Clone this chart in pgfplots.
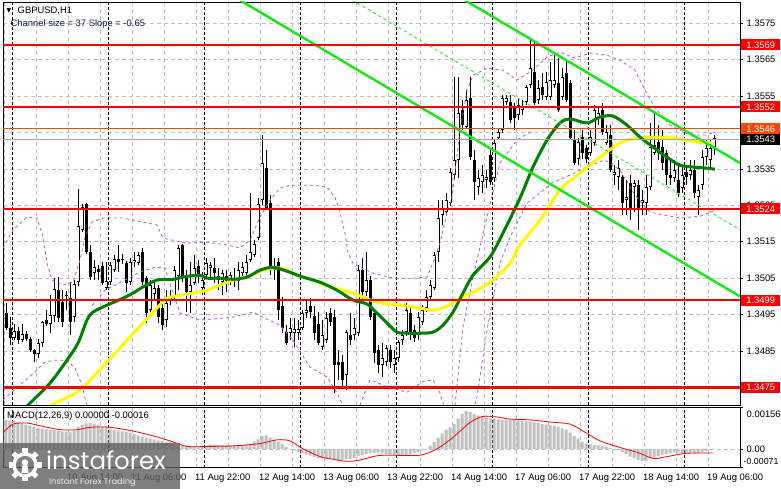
\documentclass[border=0pt]{standalone}
\usepackage{fontspec}
\setmainfont{Liberation Sans}
\newfontfamily\logofont{Poppins}
\newfontfamily\symfont{DejaVu Sans}
\usepackage{pgfplots}
\usepackage{pgfplotstable}
\pgfplotsset{compat=1.18}

\definecolor{mtred}{RGB}{255,0,0}
\definecolor{mtorange}{RGB}{255,69,0}
\definecolor{mtlime}{RGB}{20,235,20}
\definecolor{mtgreen}{RGB}{0,128,0}
\definecolor{mtyellow}{RGB}{255,250,0}
\definecolor{bbpurple}{RGB}{180,85,220}
\definecolor{gridgray}{RGB}{192,192,192}
\definecolor{histgray}{RGB}{192,192,192}
\definecolor{chtext}{RGB}{20,30,70}
\definecolor{logogray}{RGB}{95,95,95}

% GBPUSD H1 candles: bar, open, high, low, close
\pgfplotstableread{
i o h l c
0 1.35023 1.35028 1.34946 1.34954
1 1.34954 1.34982 1.34908 1.34913
2 1.34913 1.34943 1.34866 1.34886
3 1.34886 1.34924 1.34880 1.34905
4 1.34905 1.34916 1.34869 1.34880
5 1.34880 1.34924 1.34875 1.34897
6 1.34897 1.34905 1.34877 1.34883
7 1.34883 1.34888 1.34847 1.34853
8 1.34853 1.34855 1.34820 1.34842
9 1.34842 1.34883 1.34831 1.34872
10 1.34872 1.34932 1.34861 1.34929
11 1.34935 1.34962 1.34918 1.34924
12 1.34924 1.35003 1.34899 1.34949
13 1.34946 1.35050 1.34929 1.35020
14 1.35017 1.35053 1.34929 1.34940
15 1.34984 1.35017 1.34916 1.34929
16 1.35001 1.35014 1.34962 1.35003
17 1.34995 1.35039 1.34894 1.34929
18 1.34943 1.35045 1.34929 1.35034
19 1.35039 1.35294 1.35028 1.35193
20 1.35182 1.35253 1.35176 1.35245
21 1.35253 1.35256 1.35116 1.35122
22 1.35122 1.35141 1.35045 1.35053
23 1.35064 1.35100 1.35045 1.35080
24 1.35075 1.35086 1.35045 1.35067
25 1.35083 1.35094 1.35031 1.35036
26 1.35023 1.35094 1.35017 1.35042
27 1.35039 1.35094 1.35031 1.35086
28 1.35072 1.35113 1.35067 1.35102
29 1.35102 1.35141 1.35067 1.35094
30 1.35100 1.35116 1.35089 1.35102
31 1.35091 1.35097 1.35012 1.35036
32 1.35039 1.35105 1.35031 1.35094
33 1.35094 1.35122 1.35080 1.35100
34 1.35091 1.35122 1.35086 1.35113
35 1.35122 1.35132 1.35031 1.35039
36 1.35050 1.35056 1.34927 1.34954
37 1.34962 1.35045 1.34957 1.35031
38 1.35006 1.35039 1.34990 1.35023
39 1.35023 1.35031 1.34927 1.34943
40 1.34968 1.34984 1.34908 1.34921
41 1.34935 1.35017 1.34916 1.34982
42 1.34990 1.35017 1.34976 1.35001
43 1.35001 1.35083 1.34992 1.35072
44 1.35056 1.35141 1.35017 1.35132
45 1.35141 1.35144 1.35039 1.35053
46 1.35053 1.35072 1.34957 1.35012
47 1.35012 1.35094 1.34954 1.35031
48 1.35036 1.35113 1.35031 1.35078
49 1.35083 1.35100 1.35036 1.35053
50 1.35023 1.35067 1.35003 1.35045
51 1.35058 1.35105 1.35053 1.35091
52 1.35078 1.35094 1.35045 1.35086
53 1.35078 1.35105 1.35036 1.35064
54 1.35056 1.35078 1.35017 1.35045
55 1.35039 1.35072 1.35003 1.35064
56 1.35056 1.35072 1.35012 1.35042
57 1.35045 1.35067 1.35031 1.35058
58 1.35045 1.35078 1.35026 1.35050
59 1.35042 1.35094 1.35017 1.35072
60 1.35064 1.35094 1.35056 1.35080
61 1.35064 1.35113 1.35058 1.35094
62 1.35100 1.35283 1.35094 1.35122
63 1.35113 1.35154 1.35108 1.35144
64 1.35160 1.35270 1.35154 1.35253
65 1.35264 1.35443 1.35251 1.35366
66 1.35352 1.35401 1.35237 1.35242
67 1.35256 1.35278 1.35058 1.35078
68 1.35072 1.35105 1.35045 1.35083
69 1.35094 1.35105 1.34935 1.34962
70 1.34973 1.34998 1.34899 1.34913
71 1.34902 1.34921 1.34866 1.34872
72 1.34899 1.34940 1.34880 1.34913
73 1.34899 1.34940 1.34861 1.34910
74 1.34899 1.34935 1.34880 1.34910
75 1.34913 1.34962 1.34908 1.34954
76 1.34954 1.34990 1.34940 1.34962
77 1.34973 1.34995 1.34940 1.34957
78 1.34946 1.34973 1.34880 1.34899
79 1.34924 1.34957 1.34866 1.34872
80 1.34861 1.34935 1.34853 1.34894
81 1.34880 1.34957 1.34872 1.34940
82 1.34954 1.34968 1.34918 1.34929
83 1.34943 1.34962 1.34735 1.34812
84 1.34820 1.34853 1.34770 1.34812
85 1.34820 1.34839 1.34748 1.34770
86 1.34784 1.34908 1.34743 1.34902
87 1.34894 1.34954 1.34866 1.34880
88 1.34894 1.34940 1.34880 1.34913
89 1.34899 1.35086 1.34891 1.35072
90 1.35072 1.35105 1.34990 1.35012
91 1.35012 1.35122 1.35001 1.35045
92 1.35045 1.35056 1.34935 1.34943
93 1.34954 1.34962 1.34817 1.34844
94 1.34853 1.34866 1.34790 1.34812
95 1.34812 1.34872 1.34779 1.34831
96 1.34820 1.34866 1.34809 1.34858
97 1.34853 1.34866 1.34803 1.34820
98 1.34812 1.34853 1.34790 1.34831
99 1.34831 1.34880 1.34820 1.34875
100 1.34880 1.34908 1.34866 1.34894
101 1.34902 1.34982 1.34891 1.34962
102 1.34954 1.34976 1.34880 1.34894
103 1.34908 1.34921 1.34875 1.34886
104 1.34894 1.34957 1.34880 1.34943
105 1.34929 1.34976 1.34921 1.34962
106 1.34968 1.35017 1.34957 1.34998
107 1.34998 1.35045 1.34990 1.35031
108 1.35023 1.35122 1.35017 1.35113
109 1.35122 1.35264 1.35094 1.35215
110 1.35223 1.35264 1.35196 1.35242
111 1.35231 1.35283 1.35226 1.35264
112 1.35256 1.35352 1.35248 1.35341
113 1.35333 1.35602 1.35319 1.35374
114 1.35374 1.35602 1.35325 1.35503
115 1.35511 1.35539 1.35456 1.35470
116 1.35465 1.35566 1.35462 1.35539
117 1.35544 1.35602 1.35374 1.35382
118 1.35374 1.35401 1.35264 1.35314
119 1.35300 1.35347 1.35278 1.35325
120 1.35314 1.35360 1.35283 1.35333
121 1.35319 1.35347 1.35297 1.35327
122 1.35388 1.35401 1.35306 1.35314
123 1.35325 1.35429 1.35314 1.35421
124 1.35434 1.35462 1.35429 1.35451
125 1.35456 1.35552 1.35448 1.35544
126 1.35533 1.35552 1.35525 1.35544
127 1.35533 1.35552 1.35476 1.35484
128 1.35517 1.35530 1.35456 1.35489
129 1.35497 1.35544 1.35484 1.35525
130 1.35511 1.35539 1.35497 1.35519
131 1.35533 1.35580 1.35525 1.35574
132 1.35580 1.35703 1.35572 1.35626
133 1.35615 1.35703 1.35525 1.35530
134 1.35539 1.35594 1.35528 1.35572
135 1.35574 1.35613 1.35539 1.35552
136 1.35547 1.35615 1.35539 1.35588
137 1.35547 1.35643 1.35539 1.35594
138 1.35580 1.35662 1.35572 1.35594
139 1.35585 1.35654 1.35506 1.35511
140 1.35547 1.35626 1.35539 1.35602
141 1.35613 1.35648 1.35533 1.35539
142 1.35585 1.35594 1.35429 1.35434
143 1.35429 1.35456 1.35360 1.35366
144 1.35377 1.35434 1.35360 1.35423
145 1.35437 1.35456 1.35377 1.35393
146 1.35407 1.35415 1.35366 1.35377
147 1.35393 1.35456 1.35385 1.35437
148 1.35421 1.35525 1.35413 1.35511
149 1.35489 1.35519 1.35470 1.35503
150 1.35511 1.35530 1.35443 1.35451
151 1.35421 1.35470 1.35415 1.35451
152 1.35443 1.35470 1.35341 1.35347
153 1.35333 1.35360 1.35306 1.35341
154 1.35327 1.35374 1.35292 1.35352
155 1.35327 1.35333 1.35223 1.35256
156 1.35264 1.35319 1.35223 1.35272
157 1.35311 1.35333 1.35209 1.35237
158 1.35300 1.35319 1.35231 1.35311
159 1.35305 1.35319 1.35182 1.35242
160 1.35256 1.35292 1.35223 1.35264
161 1.35256 1.35333 1.35223 1.35300
162 1.35300 1.35475 1.35292 1.35410
163 1.35393 1.35503 1.35388 1.35415
164 1.35423 1.35470 1.35374 1.35393
165 1.35410 1.35456 1.35347 1.35366
166 1.35393 1.35401 1.35306 1.35333
167 1.35333 1.35374 1.35306 1.35325
168 1.35325 1.35374 1.35314 1.35347
169 1.35319 1.35360 1.35272 1.35283
170 1.35297 1.35360 1.35283 1.35333
171 1.35341 1.35360 1.35306 1.35327
172 1.35333 1.35374 1.35319 1.35347
173 1.35347 1.35374 1.35270 1.35283
174 1.35272 1.35305 1.35223 1.35292
175 1.35305 1.35401 1.35292 1.35382
176 1.35382 1.35429 1.35360 1.35407
177 1.35374 1.35429 1.35347 1.35407
178 1.35410 1.35443 1.35388 1.35434
}\candles

% MACD(12,26,9) main values (histogram)
\pgfplotstableread{
i v
0 0.00112
1 0.00109
2 0.00106
3 0.00104
4 0.00101
5 0.00096
6 0.00091
7 0.00087
8 0.00083
9 0.00079
10 0.00076
11 0.00073
12 0.00072
13 0.00070
14 0.00068
15 0.00066
16 0.00064
17 0.00062
18 0.00067
19 0.00083
20 0.00091
21 0.00096
22 0.00097
23 0.00094
24 0.00090
25 0.00084
26 0.00078
27 0.00074
28 0.00072
29 0.00068
30 0.00066
31 0.00063
32 0.00061
33 0.00056
34 0.00051
35 0.00045
36 0.00042
37 0.00039
38 0.00035
39 0.00032
40 0.00029
41 0.00026
42 0.00024
43 0.00019
44 0.00013
45 0.00010
46 0.00008
47 0.00008
48 0.00006
49 0.00005
50 0.00008
51 0.00013
52 0.00017
53 0.00015
54 0.00014
55 0.00014
56 0.00014
57 0.00014
58 0.00013
59 0.00011
60 0.00013
61 0.00015
62 0.00020
63 0.00028
64 0.00036
65 0.00049
66 0.00051
67 0.00042
68 0.00035
69 0.00027
70 0.00019
71 0.00008
72 0.00000
73 -0.00007
74 -0.00012
75 -0.00017
76 -0.00022
77 -0.00026
78 -0.00030
79 -0.00035
80 -0.00036
81 -0.00037
82 -0.00038
83 -0.00040
84 -0.00042
85 -0.00042
86 -0.00040
87 -0.00038
88 -0.00034
89 -0.00027
90 -0.00024
91 -0.00020
92 -0.00017
93 -0.00016
94 -0.00015
95 -0.00017
96 -0.00019
97 -0.00021
98 -0.00023
99 -0.00024
100 -0.00025
101 -0.00024
102 -0.00020
103 -0.00016
104 -0.00012
105 -0.00006
106 0.00000
107 0.00011
108 0.00025
109 0.00042
110 0.00057
111 0.00072
112 0.00081
113 0.00094
114 0.00114
115 0.00131
116 0.00143
117 0.00139
118 0.00131
119 0.00125
120 0.00120
121 0.00116
122 0.00114
123 0.00112
124 0.00111
125 0.00110
126 0.00109
127 0.00109
128 0.00108
129 0.00107
130 0.00105
131 0.00104
132 0.00103
133 0.00100
134 0.00098
135 0.00093
136 0.00091
137 0.00088
138 0.00087
139 0.00083
140 0.00077
141 0.00072
142 0.00061
143 0.00049
144 0.00038
145 0.00027
146 0.00021
147 0.00017
148 0.00014
149 0.00013
150 0.00011
151 0.00007
152 0.00003
153 0.00000
154 -0.00005
155 -0.00012
156 -0.00020
157 -0.00029
158 -0.00036
159 -0.00042
160 -0.00045
161 -0.00044
162 -0.00037
163 -0.00032
164 -0.00027
165 -0.00022
166 -0.00019
167 -0.00016
168 -0.00013
169 -0.00014
170 -0.00016
171 -0.00017
172 -0.00017
173 -0.00017
174 -0.00015
175 -0.00013
176 -0.00008
177 -0.00004
178 0.00000
}\macdhist

\pgfplotsset{
  wick/.style={draw=none, forget plot, error bars/y dir=plus, error bars/y explicit,
    error bars/error mark=none, error bars/error bar style={draw=black, line width=1pt}},
  body/.style={draw=none, forget plot, error bars/y dir=plus, error bars/y explicit,
    error bars/error mark=none, error bars/error bar style={draw=#1, line width=3pt}},
  band/.style={bbpurple, line width=0.8pt, dash pattern=on 3pt off 3pt},
}

\begin{document}
\begin{tikzpicture}[font=\fontsize{9.4}{11}\selectfont]
\useasboundingbox[fill=white] (0,0) rectangle (781pt,489pt);

% ---------------- price panel ----------------
\begin{axis}[
  at={(3pt,84pt)}, anchor=south west,
  width=737pt, height=403pt, scale only axis,
  xmin=0.25, xmax=184.5, ymin=1.34702, ymax=1.35808,
  clip mode=individual,
  axis line style={black, line width=0.8pt},
  xtick={0.5,8.5,...,176.5}, xticklabels={}, xtick style={draw=none},
  xmajorgrids, ymajorgrids,
  major grid style={gridgray, line width=0.6pt, dash pattern=on 4pt off 3pt},
  extra x ticks={2.5,26.5,...,170.5}, extra x tick labels={},
  extra x tick style={grid=major, xtick style={draw=none},
    major grid style={black, line width=0.6pt, dash pattern=on 3pt off 2pt}},
  ytick pos=right, yticklabel pos=right,
  ytick={1.3475,1.3485,1.3495,1.3505,1.3515,1.3525,1.3535,1.3545,1.3555,1.3565,1.3575},
  yticklabels={,1.3485,1.3495,1.3505,1.3515,1.3525,1.3535,,1.3555,1.3565,1.3575},
  ytick align=outside, major tick length=3pt, ytick style={black, line width=0.6pt},
  yticklabel style={anchor=west, inner sep=0pt, xshift=3.5pt},
  tick label style={font=\fontsize{9.4}{11}\selectfont},
]
% candles
\addplot[wick] table[x=i, y=l, y error plus expr=\thisrow{h}-\thisrow{l}] {\candles};
\addplot[restrict expr to domain={\thisrow{o}-\thisrow{c}}{0.000001:1}, body=black]
  table[x=i, y=c, y error plus expr=\thisrow{o}-\thisrow{c}] {\candles};
\addplot[restrict expr to domain={\thisrow{c}-\thisrow{o}}{0:1}, body=black]
  table[x=i, y=o, y error plus expr={max(\thisrow{c}-\thisrow{o},0.00003)}] {\candles};
\addplot[restrict expr to domain={\thisrow{c}-\thisrow{o}}{0.00006:1}, body=white,
  error bars/error bar style={line width=1.1pt}]
  table[x=i, y expr=\thisrow{o}+0.000026, y error plus expr={\thisrow{c}-\thisrow{o}-0.000052}] {\candles};

% Bollinger-type bands (purple dashed)
\addplot[band] coordinates {(0.25,1.35133) (2.75,1.35182) (6.25,1.35218) (8.75,1.35215) (10.25,1.35163) (11.25,1.35091) (12.5,1.35045) (15.25,1.35031) (17.75,1.35039) (19.5,1.35100) (20.75,1.35163) (22.5,1.35204) (25.25,1.35215) (30.25,1.35215) (35.25,1.35204) (38.75,1.35196) (40.25,1.35160) (42.75,1.35154) (46.25,1.35146) (51.25,1.35149) (56.25,1.35141) (59.5,1.35133) (62,1.35154) (64.5,1.35218) (67,1.35264) (69.5,1.35297) (72,1.35305) (77.75,1.35305) (81.25,1.35300) (83.25,1.35272) (84.5,1.35229) (85.75,1.35174) (86.5,1.35119) (87.75,1.35091) (89.5,1.35080) (92.75,1.35064) (97.75,1.35050) (102.75,1.35050) (106.25,1.35053) (107.75,1.35091) (109.5,1.35146) (111.25,1.35229) (112.5,1.35272) (114.5,1.35456) (116.25,1.35566) (117.75,1.35607) (121.25,1.35626) (125.25,1.35621) (128.75,1.35594) (132.75,1.35621) (136.25,1.35657) (139.5,1.35670) (143.25,1.35654) (147,1.35668) (151.25,1.35662) (154.5,1.35648) (158.25,1.35621) (160.75,1.35566) (163.25,1.35517) (167,1.35470) (172,1.35443) (175.75,1.35443) (178.5,1.35451)};
\addplot[band] coordinates {(0.25,1.34716) (4.5,1.34757) (8.25,1.34793) (10.75,1.34820) (13.25,1.34825) (16.25,1.34825) (18.25,1.34803) (20,1.34757) (21.5,1.34688)};
\addplot[band] coordinates {(22.5,1.34975) (25.75,1.35017) (30.75,1.35045) (34.5,1.35067) (38.25,1.35080) (40.75,1.35078) (42.5,1.35017) (44.5,1.34954) (49.5,1.34935) (57.75,1.34943) (62.75,1.34957) (65.75,1.34940) (69.5,1.34921) (72.75,1.34880) (77,1.34806) (81.25,1.34779) (83.75,1.34735) (85.75,1.34688)};
\addplot[band] coordinates {(89.5,1.34702) (92,1.34771) (96.25,1.34752) (101.25,1.34737) (105.25,1.34766) (107.75,1.34771) (109.5,1.34735) (110.75,1.34688)};
\addplot[band] coordinates {(117.75,1.34688) (118.75,1.34724) (121.25,1.34908) (124.5,1.35091) (127,1.35163) (131.25,1.35256) (134.5,1.35284) (137.5,1.35311) (142,1.35333) (147,1.35360) (150.75,1.35374) (154.5,1.35347) (158.25,1.35278) (162,1.35231) (169.5,1.35215) (174.5,1.35220) (178.5,1.35237)};
\addplot[band] coordinates {(113.25,1.34702) (115.25,1.34916) (117.75,1.35053) (121.25,1.35218) (124.5,1.35366) (128.75,1.35429) (132.75,1.35456)};

% moving averages
\addplot[mtyellow, line width=3pt, smooth] coordinates {(10,1.34688) (13.25,1.34707) (19.5,1.34743) (26.25,1.34820) (31.25,1.34880) (35.25,1.34927) (38.75,1.34968) (41.25,1.34995) (44.5,1.35003) (47.75,1.35009) (51.25,1.35017) (54.5,1.35031) (57.75,1.35045) (61.25,1.35053) (65.25,1.35072) (69.5,1.35078) (73.75,1.35058) (77.75,1.35045) (82,1.35026) (87.75,1.35009) (93.75,1.34984) (99.5,1.34976) (104.5,1.34968) (107.75,1.34962) (111.25,1.34973) (114.5,1.34995) (118.75,1.35017) (122.75,1.35045) (127,1.35091) (129.5,1.35141) (134.5,1.35209) (139.5,1.35292) (144.5,1.35338) (149.5,1.35382) (154.5,1.35421) (158.75,1.35434) (164.5,1.35437) (169.5,1.35432) (174.5,1.35423) (177.5,1.35421)};
\addplot[mtgreen, line width=3pt, smooth] coordinates {(5.25,1.34688) (7,1.34707) (12,1.34762) (16.25,1.34825) (19,1.34872) (21.25,1.34935) (22.75,1.34957) (26.25,1.34976) (30.25,1.34995) (32.75,1.35009) (35.25,1.35026) (38.75,1.35045) (42.75,1.35047) (46.25,1.35055) (49.5,1.35058) (51.25,1.35050) (54.5,1.35050) (57.75,1.35047) (61.25,1.35053) (64.5,1.35072) (67.75,1.35080) (71.25,1.35069) (75.25,1.35053) (79.5,1.35039) (83.75,1.35017) (87.75,1.34990) (91.25,1.34979) (93.75,1.34954) (96.25,1.34927) (98.75,1.34902) (101.25,1.34899) (104.5,1.34899) (107.75,1.34902) (110.25,1.34921) (112.75,1.34957) (115.25,1.35009) (117.75,1.35058) (122,1.35108) (125.25,1.35174) (129.5,1.35270) (132.75,1.35355) (136.25,1.35429) (139.5,1.35476) (142,1.35487) (146.25,1.35476) (149.5,1.35492) (152.75,1.35495) (156.25,1.35470) (159.5,1.35437) (162.75,1.35410) (166.25,1.35382) (169.5,1.35360) (172.75,1.35355) (176.25,1.35352) (178.25,1.35349)};

% regression channel
\addplot[mtlime, line width=2.4pt] coordinates {(110,1.35850) (184.5,1.35366)};
\addplot[mtlime, line width=2.4pt] coordinates {(55,1.35842) (184.5,1.35000)};
\addplot[mtlime, line width=0.8pt, dash pattern=on 3pt off 3pt] coordinates {(85,1.35830) (184.5,1.35183)};

% horizontal levels
\addplot[mtred, line width=2.4pt] coordinates {(0.25,1.3569) (184.5,1.3569)};
\addplot[mtred, line width=2.4pt] coordinates {(0.25,1.3552) (184.5,1.3552)};
\addplot[mtorange, line width=0.8pt] coordinates {(0.25,1.3546) (184.5,1.3546)};
\addplot[gridgray!85!black, line width=0.8pt] coordinates {(0.25,1.3543) (184.5,1.3543)};
\addplot[mtred, line width=2.4pt] coordinates {(0.25,1.3524) (184.5,1.3524)};
\addplot[mtred, line width=2.4pt] coordinates {(0.25,1.3499) (184.5,1.3499)};
\addplot[mtred, line width=2.4pt] coordinates {(0.25,1.3475) (184.5,1.3475)};

\tikzset{lvl/.style={anchor=west, inner sep=0pt, minimum width=39pt, minimum height=11pt, text=white, xshift=1pt}}
\node[lvl, fill=mtred] at (axis cs:184.5,1.3569) {1.3569};
\node[lvl, fill=mtred] at (axis cs:184.5,1.3552) {1.3552};
\node[lvl, fill=mtorange] at (axis cs:184.5,1.3546) {1.3546};
\node[lvl, fill=black] at (axis cs:184.5,1.3543) {1.3543};
\node[lvl, fill=mtred] at (axis cs:184.5,1.3524) {1.3524};
\node[lvl, fill=mtred] at (axis cs:184.5,1.3499) {1.3499};
\node[lvl, fill=mtred] at (axis cs:184.5,1.3475) {1.3475};
\end{axis}

% ---------------- MACD panel ----------------
\begin{axis}[
  at={(3pt,21.3pt)}, anchor=south west,
  width=737pt, height=60.3pt, scale only axis,
  xmin=0.25, xmax=184.5, ymin=-0.00071, ymax=0.00156,
  clip mode=individual,
  axis line style={black, line width=0.8pt},
  scaled y ticks=false,
  xtick={0,16,...,176},
  xticklabels={7 Aug 2025, 10 Aug 14:00, 11 Aug 06:00, 11 Aug 22:00, 12 Aug 14:00, 13 Aug 06:00, 13 Aug 22:00, 14 Aug 14:00, 17 Aug 06:00, 17 Aug 22:00, 18 Aug 14:00, 19 Aug 06:00},
  xtick style={draw=none}, xtick pos=bottom,
  xticklabel style={anchor=north west, inner sep=0pt, yshift=-6.5pt, xshift=1pt},
  minor xtick={0.5,8.5,...,176.5}, xminorgrids,
  minor grid style={gridgray, line width=0.6pt, dash pattern=on 4pt off 3pt},
  extra x ticks={2.5,26.5,...,170.5}, extra x tick labels={},
  extra x tick style={grid=major, xtick style={draw=none},
    major grid style={black, line width=0.6pt, dash pattern=on 3pt off 2pt}},
  ytick={0.00156,0,-0.00071}, yticklabels={}, ytick pos=right,
  ytick align=outside, major tick length=3pt, ytick style={black, line width=0.6pt},
  extra y ticks={0}, extra y tick labels={},
  extra y tick style={grid=major, major grid style={gridgray, line width=0.6pt, dash pattern=on 4pt off 3pt}},
  tick label style={font=\fontsize{9.4}{11}\selectfont},
]
\addplot[ybar, bar width=3pt, fill=histgray, draw=none] table[x=i, y=v] {\macdhist};
\addplot[mtred, line width=0.8pt, smooth] coordinates {(0.25,0.00061) (2.75,0.00093) (6.25,0.00097) (9.5,0.00087) (14.5,0.00072) (18.75,0.00072) (22,0.00081) (27,0.00081) (32.75,0.00067) (37.75,0.00049) (42,0.00030) (46.25,0.00009) (51.25,0.00009) (57.75,0.00011) (64.5,0.00020) (68.75,0.00034) (72,0.00030) (75.25,0.00000) (79.5,-0.00029) (82.75,-0.00039) (86.25,-0.00047) (89.5,-0.00042) (93.75,-0.00026) (97,-0.00024) (104.5,-0.00024) (108.75,0.00000) (112.75,0.00043) (117,0.00099) (120.25,0.00122) (123.75,0.00120) (127,0.00112) (132,0.00109) (137,0.00101) (142,0.00093) (145.25,0.00067) (149.5,0.00030) (154.5,0.00005) (158.75,-0.00013) (162.75,-0.00036) (165.25,-0.00032) (169.5,-0.00020) (172,-0.00016) (177.75,-0.00016)};
\end{axis}

% texts
\node[anchor=west, inner sep=0pt, font=\symfont\fontsize{6}{6}\selectfont] at (6.5pt,478.5pt) {▼};
\node[anchor=west, inner sep=0pt] at (17.5pt,478.5pt) {GBPUSD,H1};
\node[anchor=west, inner sep=0pt, text=chtext] at (10.5pt,465pt) {Channel size = 37 Slope = -0.65};
\node[anchor=west, inner sep=0pt] at (7pt,73pt) {MACD(12,26,9) 0.00000 -0.00016};
\node[anchor=west, inner sep=0pt] at (746.5pt,74.3pt) {0.00156};
\node[anchor=west, inner sep=0pt] at (746.5pt,39.5pt) {0.00};
\node[anchor=west, inner sep=0pt, font=\fontsize{8.8}{10}\selectfont] at (743.5pt,27.3pt) {-0.00071};

% watermark
\fill[logogray, fill opacity=0.8] (0,0) rectangle (180pt,46pt);
\begin{scope}[shift={(25pt,24pt)}, white]
  \draw[line width=3.5pt] (0,0) circle (11pt);
  \foreach \a in {0,45,...,315}
    \fill[rotate=\a] (-2.6pt,11pt) rectangle (2.6pt,16.5pt);
  \fill (0,2.5pt) circle (3.2pt);
  \fill (-2.4pt,0) -- (2.4pt,0) -- (3.6pt,-8pt) -- (-3.6pt,-8pt) -- cycle;
\end{scope}
\node[anchor=base west, inner sep=0pt, text=white, font=\logofont\fontsize{24.5}{25}\selectfont] at (46pt,19.5pt) {instaforex};
\node[anchor=base west, inner sep=0pt, text=white!85!gray, font=\logofont\fontsize{8.3}{9}\selectfont] at (49pt,4pt) {Instant Forex Trading};
\end{tikzpicture}
\end{document}
